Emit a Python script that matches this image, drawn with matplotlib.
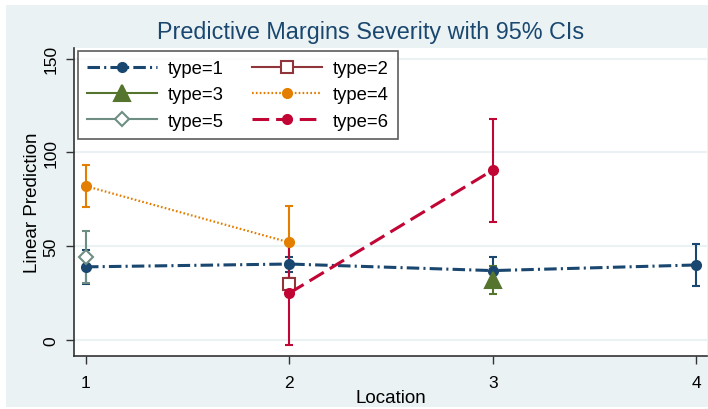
import matplotlib
matplotlib.use("Agg")
import matplotlib.pyplot as plt
from matplotlib.patches import Rectangle
from matplotlib.lines import Line2D

plt.rcParams['font.family'] = ['Liberation Sans', 'DejaVu Sans']
plt.rcParams['lines.scale_dashes'] = False

# predictive margins by type: location, estimate, lower CI, upper CI
t1_loc = [1, 2, 3, 4]
t1_est = [39, 40.5, 37, 40]
t1_lo = [30, 36, 30, 29]
t1_hi = [48, 44.5, 44, 51]

t2_loc = [2]
t2_est = [30]
t2_lo = [27]
t2_hi = [33]

t3_loc = [3]
t3_est = [32]
t3_lo = [24.5]
t3_hi = [39.5]

t4_loc = [1, 2]
t4_est = [82, 52]
t4_lo = [71, 33]
t4_hi = [93, 71.5]

t5_loc = [1]
t5_est = [44.5]
t5_lo = [30.5]
t5_hi = [58]

t6_loc = [2, 3]
t6_est = [25, 90.5]
t6_lo = [-2.5, 63]
t6_hi = [52.5, 118]

labels = ["type=1", "type=2", "type=3", "type=4", "type=5", "type=6"]
x_ticks = [1, 2, 3, 4]
y_ticks = [0, 50, 100, 150]

bg = "#eaf2f3"
navy = "#1a476f"
maroon = "#90353b"
green = "#55752f"
orange = "#e37e00"
teal = "#6e8e84"
cranberry = "#c10534"

fig = plt.figure(figsize=(7.08, 4.10), dpi=100)
fig.patch.set_facecolor("white")
fig.add_artist(Rectangle((6 / 708, 2 / 410), 702 / 708, 402 / 410,
                         transform=fig.transFigure, facecolor=bg,
                         edgecolor="none", zorder=0))

ax = fig.add_axes([74 / 708, 1 - 357 / 410, 633 / 708, 308 / 410])
ax.set_facecolor("white")

series = [
    (t1_loc, t1_est, t1_lo, t1_hi, navy, "o", 6.5, True, (0, (9, 3, 1.5, 3)), 2.2),
    (t2_loc, t2_est, t2_lo, t2_hi, maroon, "s", 8, False, "-", 1.5),
    (t3_loc, t3_est, t3_lo, t3_hi, green, "^", 12, True, "-", 1.5),
    (t4_loc, t4_est, t4_lo, t4_hi, orange, "o", 6.5, True, (0, (1.2, 1.6)), 1.6),
    (t5_loc, t5_est, t5_lo, t5_hi, teal, "D", 7.5, False, "-", 1.5),
    (t6_loc, t6_est, t6_lo, t6_hi, cranberry, "o", 6.5, True, (0, (12, 5)), 2.2),
]

handles = []
for (loc, est, lo, hi, col, mk, ms, filled, ls, lw), lab in zip(series, labels):
    yerr = [[e - l for e, l in zip(est, lo)], [h - e for e, h in zip(est, hi)]]
    ax.errorbar(loc, est, yerr=yerr, fmt="none", ecolor=col, elinewidth=1.5,
                capsize=3, capthick=1.5, zorder=3)
    fc = col if filled else "white"
    ax.plot(loc, est, color=col, linestyle=ls, linewidth=lw, marker=mk,
            markersize=ms, markerfacecolor=fc, markeredgecolor=col,
            markeredgewidth=1.5, zorder=4)
    handles.append(Line2D([], [], color=col, linestyle=ls, linewidth=lw,
                          marker=mk, markersize=ms, markerfacecolor=fc,
                          markeredgecolor=col, markeredgewidth=1.5))

ax.set_xlim(0.941, 4.054)
ax.set_ylim(-8.5, 155.6)
ax.set_xticks(x_ticks)
ax.set_yticks(y_ticks)
ax.set_yticklabels([str(v) for v in y_ticks], rotation=90, va="center")
ax.tick_params(axis="both", direction="out", length=6, width=1, colors="#333333",
               labelcolor="black", labelsize=12.5)
ax.tick_params(axis="x", pad=8)
ax.tick_params(axis="y", pad=5)
ax.grid(axis="y", color=bg, linewidth=1.5)
ax.set_axisbelow(True)
for side in ["top", "right"]:
    ax.spines[side].set_visible(False)
for side in ["left", "bottom"]:
    ax.spines[side].set_color("#333333")
    ax.spines[side].set_linewidth(1.2)

ax.set_xlabel("Location", fontsize=13.5, labelpad=-1)
ax.set_ylabel("Linear Prediction", fontsize=13.5, labelpad=2)
fig.text(0.523, 1 - 32 / 410, "Predictive Margins Severity with 95% CIs",
         ha="center", va="center", fontsize=16.8, color=navy)

# row-major legend order: matplotlib fills columns first
order = [0, 2, 4, 1, 3, 5]
leg = ax.legend([handles[i] for i in order], [labels[i] for i in order],
                ncol=2, loc="upper left", bbox_to_anchor=(4 / 633, 1 - 3 / 308),
                borderaxespad=0, fontsize=13.3, frameon=True, fancybox=False,
                edgecolor="#333333", handlelength=3.8, columnspacing=1.55,
                labelspacing=0.5, borderpad=0.5, handletextpad=0.55)
leg.get_frame().set_linewidth(1.2)

fig.savefig("out.png", dpi=100, facecolor=fig.get_facecolor())
